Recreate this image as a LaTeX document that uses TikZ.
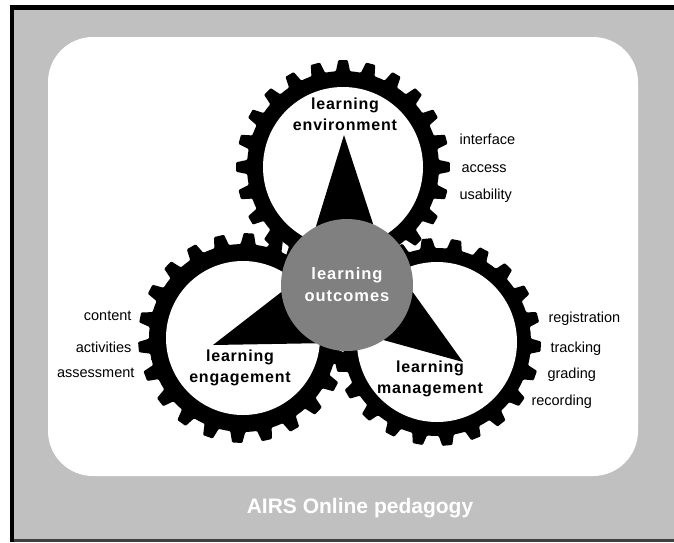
\documentclass[tikz,border=0pt]{standalone}
\usepackage{fontspec}
\setmainfont{Liberation Sans}
\usepackage{tikz}
\usetikzlibrary{positioning}
\definecolor{panelgray}{RGB}{192,192,192}
\definecolor{hubgray}{RGB}{128,128,128}
\definecolor{edgegray}{RGB}{64,64,64}
\tikzset{
    ring/.style = {
      fill=black,
      rounded corners=1pt
    },
    hub/.style = {
      circle,
      fill=hubgray,
      minimum size=132pt,
      inner sep=0pt,
      text=white,
      align=center,
      font=\fontsize{16.5}{22}\selectfont\bfseries\addfontfeature{LetterSpace=6}
    },
    cogtext/.style = {
      font=\fontsize{16}{21}\selectfont\bfseries\addfontfeature{LetterSpace=5},
      align=center
    },
    item/.style = {font=\fontsize{14.5}{16}\selectfont},
}

% toothed ring: centre, root radius, tip radius, teeth, phase
\newcommand{\cogring}[5]{%
  \pgfmathsetmacro\cogpitch{360/#4}
  \fill[ring, shift={(#1)}] ({#5-0.5*\cogpitch}:#2)
    \foreach \k in {1,...,#4}{
      -- ({#5+(\k-1)*\cogpitch-0.28*\cogpitch}:#2)
      -- ({#5+(\k-1)*\cogpitch-0.17*\cogpitch}:#3)
      -- ({#5+(\k-1)*\cogpitch+0.17*\cogpitch}:#3)
      -- ({#5+(\k-1)*\cogpitch+0.28*\cogpitch}:#2)
      -- ({#5+(\k-1)*\cogpitch+0.5*\cogpitch}:#2)
    } -- cycle;
}

\begin{document}
\begin{tikzpicture}[x=1pt, y=-1pt]
  \fill[white] (0,0) rectangle (674,542);
  \useasboundingbox (0,0) rectangle (674,542);

  % frame and panel
  \fill[black] (10,5) rectangle (674,542);
  \fill[edgegray] (14,10) rectangle (674,542);
  \fill[panelgray] (14,10) rectangle (674,539);
  \fill[white, rounded corners=45pt] (48,37) rectangle (638,476);

  \coordinate (env) at (343,167);
  \coordinate (eng) at (243,338);
  \coordinate (man) at (437,342);

  \cogring{env}{96}{107}{24}{0}
  \cogring{eng}{94}{105}{22}{175}
  \cogring{man}{94}{104}{22}{2.5}

  \fill[white] (env) circle (80);
  \fill[white] (eng) circle (77);
  \fill[white] (man) circle (80);

  % pointers
  \fill (344,135) -- (298,285) -- (393,285) -- cycle;
  \fill (213,345) -- (293,283) -- (330,343) -- cycle;
  \fill (463,362) -- (394,266) -- (358,333) -- cycle;

  \node[hub] (outcomes) at (347,285) {learning\\outcomes};

  \node[cogtext] (envtext) at (345,114) {learning\\environment};
  \node[cogtext] (engtext) at (240,368) {learning\\engagement};
  \node[cogtext] (mantext) at (430,379) {learning\\management};

  \node[item, anchor=base west] (interface) at (456,144) {interface};
  \node[item, anchor=base west] (access) at (458,172) {access};
  \node[item, anchor=base west] (usability) at (456,199) {usability};

  \node[item, anchor=base east] (content) at (135,320) {content};
  \node[item, anchor=base east] (activities) at (135,352) {activities};
  \node[item, anchor=base east] (assessment) at (138,377) {assessment};

  \node[item, anchor=base west] (registration) at (545,322) {registration};
  \node[item, anchor=base west] (tracking) at (547,352) {tracking};
  \node[item, anchor=base west] (grading) at (544,378) {grading};
  \node[item, anchor=base west] (recording) at (528,405) {recording};

  \node[text=white, font=\fontsize{21}{24}\selectfont\bfseries] (title)
       at (360,508) {AIRS Online pedagogy};
\end{tikzpicture}
\end{document}
